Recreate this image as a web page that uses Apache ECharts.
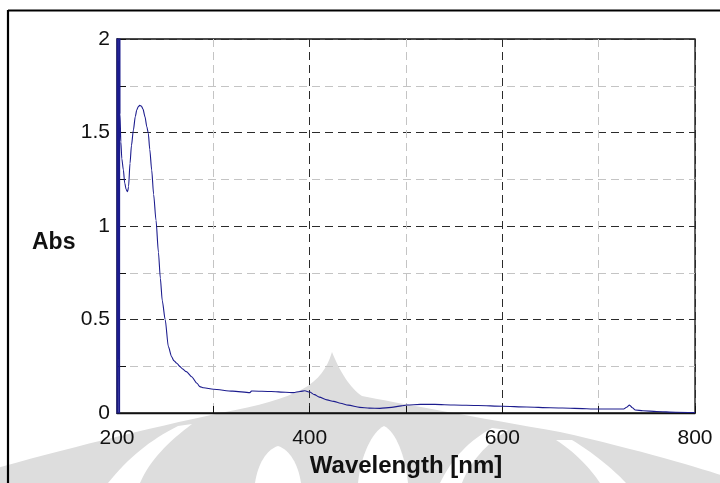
<!DOCTYPE html>
<html>
<head>
<meta charset="utf-8">
<script src="https://cdn.jsdelivr.net/npm/echarts@6/dist/echarts.min.js"></script>
<style>
  html, body { margin: 0; padding: 0; background: #fff; }
  #chart { width: 720px; height: 483px; }
</style>
</head>
<body>
<div id="chart"></div>
<script>
// UV-Vis absorption spectrum (detector saturates just above 200 nm)
const wavelength = [
  200.0, 200.1, 201.3, 202.5, 202.65, 202.8, 203.1, 204, 205, 206.6, 208, 209.5, 211, 212, 213.5,
  215, 217, 219, 220.5, 222, 223.5, 225.3, 227, 229, 231, 232.5, 234, 236, 238, 240.5,
  243, 245, 247, 250, 253.3, 256.7, 259, 262, 265.4, 268, 272, 277.5, 283, 286,
  290, 300, 320, 338, 339.5, 341, 360, 375, 383, 390, 395, 400, 405, 410,
  418, 425, 432, 440, 452, 462, 473, 485, 495, 501, 515, 530, 550, 575,
  600, 625, 650, 675, 700, 726, 729, 732, 735, 738, 746, 760, 780, 800
];
const absorbance = [
  -0.5, 4.5, -0.5, 4.5, -0.5, 4.5, 1.60, 1.45, 1.36, 1.30, 1.23, 1.195, 1.183, 1.21, 1.335,
  1.43, 1.513, 1.585, 1.62, 1.638, 1.645, 1.642, 1.625, 1.585, 1.53, 1.496, 1.41, 1.30, 1.17, 1.03,
  0.86, 0.72, 0.60, 0.50, 0.355, 0.301, 0.28, 0.266, 0.248, 0.236, 0.221, 0.194, 0.159, 0.141,
  0.135, 0.127, 0.117, 0.109, 0.117, 0.118, 0.115, 0.111, 0.109, 0.115, 0.119, 0.112, 0.098, 0.085,
  0.070, 0.062, 0.052, 0.042, 0.030, 0.026, 0.025, 0.030, 0.038, 0.043, 0.046, 0.046, 0.043, 0.040,
  0.036, 0.032, 0.028, 0.025, 0.021, 0.021, 0.031, 0.042, 0.028, 0.016, 0.012, 0.008, 0.004, 0.002
];
const xTickLabels = ['200', '400', '600', '800'];
const yTickLabels = ['0', '0.5', '1', '1.5', '2'];

const spectrum = wavelength.map((w, i) => [w, absorbance[i]]);

const FONT = '"Liberation Sans", Arial, sans-serif';
const DARK = '#2b2b2b';
const LIGHT = '#c4c4c4';

// Turn a simple outline (start point, then cubic and straight steps) into polygon points
function outline(start, steps) {
  const pts = [start];
  let p = start;
  steps.forEach(s => {
    if (s.length === 1) { pts.push(s[0]); p = s[0]; return; }
    const [c1, c2, e] = s;
    for (let i = 1; i <= 16; i++) {
      const t = i / 16, u = 1 - t;
      pts.push([
        u * u * u * p[0] + 3 * u * u * t * c1[0] + 3 * u * t * t * c2[0] + t * t * t * e[0],
        u * u * u * p[1] + 3 * u * u * t * c1[1] + 3 * u * t * t * c2[1] + t * t * t * e[1]
      ]);
    }
    p = e;
  });
  return pts;
}

// faint emblem behind the plot
const emblemBody = outline([332, 352], [
  [[322, 385], [300, 398], [220, 413]],
  [[150, 428], [60, 450], [-10, 470]],
  [[-10, 483]], [[730, 483]], [[730, 478]],
  [[700, 468], [640, 450], [560, 432]],
  [[480, 418], [392, 402], [362, 396]],
  [[350, 388], [340, 372], [332, 352]]
]);
const emblemGaps = [
  outline([108, 483], [[[128, 458], [150, 440], [178, 426]], [[192, 424]], [[168, 442], [150, 460], [140, 483]]]),
  outline([255, 483], [[[258, 464], [266, 450], [278, 446]], [[290, 450], [298, 464], [301, 483]]]),
  outline([358, 483], [[[361, 455], [372, 432], [384, 426]], [[396, 432], [405, 455], [408, 483]]]),
  outline([440, 483], [[[452, 458], [470, 440], [492, 428]], [[508, 430]], [[486, 444], [470, 462], [462, 483]]]),
  outline([600, 483], [[[590, 468], [575, 452], [556, 440]], [[572, 440]], [[592, 452], [612, 468], [626, 483]]])
];

const graphics = [
  { type: 'polygon', z: -10, silent: true, shape: { points: emblemBody }, style: { fill: '#dddddd' } }
].concat(emblemGaps.map(pts => ({
  type: 'polygon', z: -9, silent: true, shape: { points: pts }, style: { fill: '#ffffff' }
}))).concat([
  // outer frame
  { type: 'line', z: 100, silent: true, shape: { x1: 8, y1: 10.5, x2: 720, y2: 10.5 }, style: { stroke: '#000', lineWidth: 2.2 } },
  { type: 'line', z: 100, silent: true, shape: { x1: 8, y1: 10, x2: 8, y2: 483 }, style: { stroke: '#000', lineWidth: 2.2 } },
  // y axis title
  {
    type: 'text', z: 100, silent: true, left: 32, top: 231,
    style: { text: 'Abs', fontFamily: FONT, fontSize: 23, fontWeight: 'bold', fill: '#111' }
  }
]);

const chart = echarts.init(document.getElementById('chart'), null, { renderer: 'canvas' });

chart.setOption({
  animation: false,
  backgroundColor: '#ffffff',
  grid: {
    left: 117, right: 25, top: 39, bottom: 70,
    show: true, borderColor: '#111', borderWidth: 1.3, backgroundColor: 'transparent'
  },
  xAxis: {
    type: 'value', min: 200, max: 800, interval: 100,
    name: 'Wavelength [nm]', nameLocation: 'middle', nameGap: 32,
    nameTextStyle: { fontFamily: FONT, fontSize: 24, fontWeight: 'bold', color: '#111' },
    axisLine: { show: true, lineStyle: { color: '#111', width: 1.3 } },
    axisTick: { show: true, inside: true, length: 7, lineStyle: { color: '#111' } },
    axisLabel: {
      fontFamily: FONT, fontSize: 21, color: '#111', margin: 15,
      formatter: v => (xTickLabels.indexOf(String(v)) >= 0 ? String(v) : '')
    },
    splitLine: { show: true, lineStyle: { color: [DARK, LIGHT], type: [8, 5], width: 1 } }
  },
  yAxis: {
    type: 'value', min: 0, max: 2, interval: 0.25,
    axisLine: { show: true, lineStyle: { color: '#111', width: 1.3 } },
    axisTick: { show: true, inside: true, length: 9, lineStyle: { color: '#111' } },
    axisLabel: {
      fontFamily: FONT, fontSize: 21, color: '#111', margin: 7,
      verticalAlign: 'middle',
      formatter: v => (yTickLabels.indexOf(String(v)) >= 0 ? String(v) : '')
    },
    splitLine: { show: true, lineStyle: { color: [DARK, LIGHT], type: [8, 5], width: 1 } }
  },
  series: [{
    type: 'line',
    data: spectrum,
    showSymbol: false,
    smooth: 0.25,
    smoothMonotone: 'x',
    clip: true,
    lineStyle: { color: '#1c1c8e', width: 1.1 },
    z: 5
  }],
  graphic: { elements: graphics }
});
</script>
</body>
</html>
